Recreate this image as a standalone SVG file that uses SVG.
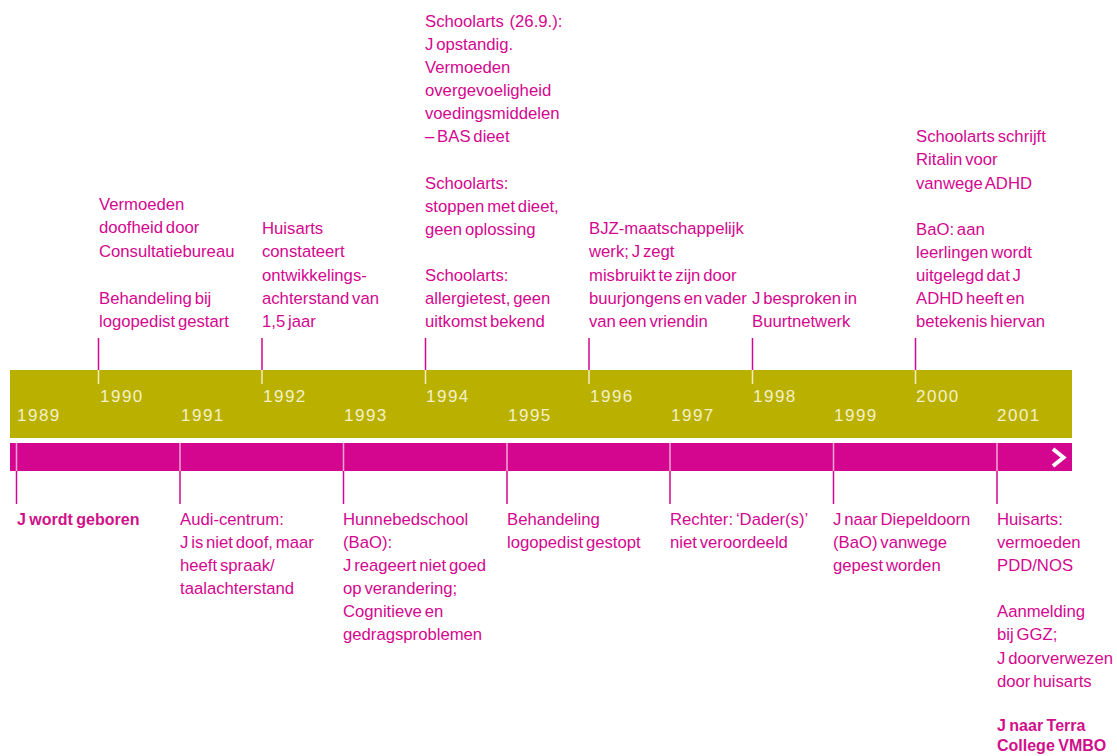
<svg xmlns="http://www.w3.org/2000/svg" width="1117" height="756" viewBox="0 0 1117 756">
<style>
.t{font-family:"Liberation Sans",Arial,sans-serif;font-size:16.7px;fill:#D4078F;word-spacing:-1.8px}
.b{font-family:"Liberation Sans",Arial,sans-serif;font-size:16px;font-weight:bold;fill:#D0108A;word-spacing:-1px}
.y{font-family:"Liberation Sans",Arial,sans-serif;font-size:17px;fill:#F4F0C8;letter-spacing:1.5px}
.tm{stroke:#D4078F;stroke-width:1.5}
.tp{stroke:#F2EDC4;stroke-width:1.5}
.tq{stroke:#F3A6D6;stroke-width:1.5}
</style>
<rect width="1117" height="756" fill="#fff"/>
<g id="bands">
<rect x="10" y="370" width="1062" height="68" fill="#BAB000"/>
<rect x="10" y="443" width="1062" height="28" fill="#D4058F"/>
<path d="M1053,449 L1063.5,457.5 L1053,466" fill="none" stroke="#fff" stroke-width="4"/>
</g>
<g id="years">
<text class="y" x="17" y="421">1989</text>
<text class="y" x="100" y="402">1990</text>
<text class="y" x="181" y="421">1991</text>
<text class="y" x="263" y="402">1992</text>
<text class="y" x="344" y="421">1993</text>
<text class="y" x="426" y="402">1994</text>
<text class="y" x="508" y="421">1995</text>
<text class="y" x="590" y="402">1996</text>
<text class="y" x="671" y="421">1997</text>
<text class="y" x="753" y="402">1998</text>
<text class="y" x="834" y="421">1999</text>
<text class="y" x="916" y="402">2000</text>
<text class="y" x="997" y="421">2001</text>
</g>
<g id="connectors">
<path class="tm" d="M98.5,338V370M262,338V370M425.5,338V370M589,338V370M752.5,338V370M915.5,338V370"/>
<path class="tp" d="M98.5,370V384M262,370V384M425.5,370V384M589,370V384M752.5,370V384M915.5,370V384"/>
<path class="tq" d="M16.5,443V471M180,443V471M343.5,443V471M507,443V471M670,443V471M833.5,443V471M997,443V471"/>
<path class="tm" d="M16.5,471V504M180,471V504M343.5,471V504M507,471V504M670,471V504M833.5,471V504M997,471V504"/>
</g>
<g id="n1990"><text class="t" x="99"><tspan x="99" y="210">Vermoeden</tspan><tspan x="99" y="233">doofheid door</tspan><tspan x="99" y="257">Consultatiebureau</tspan><tspan x="99" y="304">Behandeling bij</tspan><tspan x="99" y="327">logopedist gestart</tspan></text></g>
<g id="n1992"><text class="t"><tspan x="262" y="234">Huisarts</tspan><tspan x="262" y="257">constateert</tspan><tspan x="262" y="281">ontwikkelings-</tspan><tspan x="262" y="304">achterstand van</tspan><tspan x="262" y="327">1,5 jaar</tspan></text></g>
<g id="n1994"><text class="t"><tspan x="425" y="27">Schoolarts&#160; (26.9.):</tspan><tspan x="425" y="50">J opstandig.</tspan><tspan x="425" y="73">Vermoeden</tspan><tspan x="425" y="96">overgevoeligheid</tspan><tspan x="425" y="119">voedingsmiddelen</tspan><tspan x="425" y="142">– BAS dieet</tspan><tspan x="425" y="189">Schoolarts:</tspan><tspan x="425" y="212">stoppen met dieet,</tspan><tspan x="425" y="235">geen oplossing</tspan><tspan x="425" y="281">Schoolarts:</tspan><tspan x="425" y="304">allergietest, geen</tspan><tspan x="425" y="327">uitkomst bekend</tspan></text></g>
<g id="n1996"><text class="t"><tspan x="589" y="234">BJZ-maatschappelijk</tspan><tspan x="589" y="257">werk; J zegt</tspan><tspan x="589" y="281">misbruikt te zijn door</tspan><tspan x="589" y="304">buurjongens en vader</tspan><tspan x="589" y="327">van een vriendin</tspan></text></g>
<g id="n1998"><text class="t"><tspan x="752" y="304">J besproken in</tspan><tspan x="752" y="327">Buurtnetwerk</tspan></text></g>
<g id="n2000"><text class="t"><tspan x="916" y="142">Schoolarts schrijft</tspan><tspan x="916" y="165">Ritalin voor</tspan><tspan x="916" y="189">vanwege ADHD</tspan><tspan x="916" y="235">BaO: aan</tspan><tspan x="916" y="258">leerlingen wordt</tspan><tspan x="916" y="281">uitgelegd dat J</tspan><tspan x="916" y="304">ADHD heeft en</tspan><tspan x="916" y="327">betekenis hiervan</tspan></text></g>
<g id="n1989"><text class="b" x="17" y="525">J wordt geboren</text></g>
<g id="n1991"><text class="t"><tspan x="180" y="525">Audi-centrum:</tspan><tspan x="180" y="548">J is niet doof, maar</tspan><tspan x="180" y="571">heeft spraak/</tspan><tspan x="180" y="594">taalachterstand</tspan></text></g>
<g id="n1993"><text class="t"><tspan x="343" y="525">Hunnebedschool</tspan><tspan x="343" y="548">(BaO):</tspan><tspan x="343" y="571">J reageert niet goed</tspan><tspan x="343" y="594">op verandering;</tspan><tspan x="343" y="617">Cognitieve en</tspan><tspan x="343" y="640">gedragsproblemen</tspan></text></g>
<g id="n1995"><text class="t"><tspan x="507" y="525">Behandeling</tspan><tspan x="507" y="548">logopedist gestopt</tspan></text></g>
<g id="n1997"><text class="t"><tspan x="670" y="525">Rechter: ‘Dader(s)’</tspan><tspan x="670" y="548">niet veroordeeld</tspan></text></g>
<g id="n1999"><text class="t"><tspan x="833" y="525">J naar Diepeldoorn</tspan><tspan x="833" y="548">(BaO) vanwege</tspan><tspan x="833" y="571">gepest worden</tspan></text></g>
<g id="n2001"><text class="t"><tspan x="997" y="525">Huisarts:</tspan><tspan x="997" y="548">vermoeden</tspan><tspan x="997" y="571">PDD/NOS</tspan><tspan x="997" y="617">Aanmelding</tspan><tspan x="997" y="640">bij GGZ;</tspan><tspan x="997" y="664">J doorverwezen</tspan><tspan x="997" y="687">door huisarts</tspan></text><text class="b"><tspan x="997" y="731">J naar Terra</tspan><tspan x="997" y="751">College VMBO</tspan></text></g>
</svg>
